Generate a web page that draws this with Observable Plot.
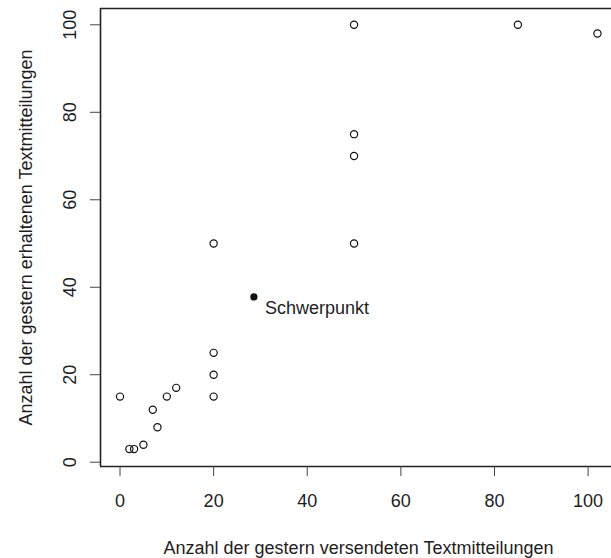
<!DOCTYPE html>
<html>
<head>
<meta charset="utf-8">
<script src="https://cdn.jsdelivr.net/npm/d3@7"></script>
<script src="https://cdn.jsdelivr.net/npm/@observablehq/plot@0.6"></script>
<style>
  html, body { margin: 0; padding: 0; background: #fff; }
  #chart { width: 611px; height: 558px; }
</style>
</head>
<body>
<div id="chart"></div>
<script>
// Data
const sentMessages     = [0, 2, 3, 5, 7, 8, 10, 12, 20, 20, 20, 20, 50, 50, 50, 50, 85, 102];
const receivedMessages = [15, 3, 3, 4, 12, 8, 15, 17, 15, 20, 25, 50, 50, 70, 75, 100, 100, 98];
const centroidX = 28.6;
const centroidY = 37.8;
const centroidLabel = "Schwerpunkt";
const xTicks = [0, 20, 40, 60, 80, 100];
const yTicks = [0, 20, 40, 60, 80, 100];
const xLabel = "Anzahl der gestern versendeten Textmitteilungen";
const yLabel = "Anzahl der gestern erhaltenen Textmitteilungen";

const xDomain = [-4.17, 105.0];
const yDomain = [-0.98, 103.73];

const points = sentMessages.map((x, i) => ({x, y: receivedMessages[i]}));
const centroid = [{x: centroidX, y: centroidY, label: centroidLabel}];

const font = "'Liberation Sans', Arial, Helvetica, sans-serif";
const ink = "#1e1e1e";

const chart = Plot.plot({
  width: 611,
  height: 558,
  marginLeft: 100,
  marginRight: 0,
  marginTop: 8,
  marginBottom: 92,
  style: {fontFamily: font, background: "#fff", color: ink},
  x: {domain: xDomain, label: null},
  y: {domain: yDomain, label: null},
  marks: [
    // box (top, bottom, left; right side lies outside the picture)
    Plot.ruleY(yDomain, {stroke: "#222", strokeWidth: 1.6}),
    Plot.ruleX([xDomain[0]], {stroke: "#222", strokeWidth: 1.6}),
    // x axis
    Plot.axisX({ticks: xTicks, tickSize: 10, tickPadding: 18, fontSize: 18, label: null, stroke: "#444", fill: ink}),
    // y axis ticks
    Plot.axisY({ticks: yTicks, tickSize: 10, tickFormat: () => "", label: null, stroke: "#444"}),
    // y tick labels (rotated, R style)
    Plot.text(yTicks, {y: d => d, text: d => String(d), frameAnchor: "left", dx: -25, rotate: -90,
      lineAnchor: "bottom", textAnchor: "middle", fontSize: 18, fill: ink}),
    // axis titles
    Plot.text([xLabel], {frameAnchor: "bottom", text: d => d, dx: 2.5, dy: 87, lineAnchor: "bottom",
      textAnchor: "middle", fontSize: 18, fill: ink}),
    Plot.text([yLabel], {frameAnchor: "left", text: d => d, dx: -69, rotate: -90, lineAnchor: "bottom",
      textAnchor: "middle", fontSize: 18, fill: ink}),
    // data points
    Plot.dot(points, {x: "x", y: "y", r: 3.6, stroke: "#111", strokeWidth: 1.2, fill: "none"}),
    // centroid
    Plot.dot(centroid, {x: "x", y: "y", r: 3.6, fill: "#111", stroke: "none"}),
    Plot.text(centroid, {x: "x", y: "y", text: "label", dx: 11, dy: 17, lineAnchor: "bottom",
      textAnchor: "start", fontSize: 18, fill: ink})
  ]
});
document.getElementById("chart").appendChild(chart);
</script>
</body>
</html>
